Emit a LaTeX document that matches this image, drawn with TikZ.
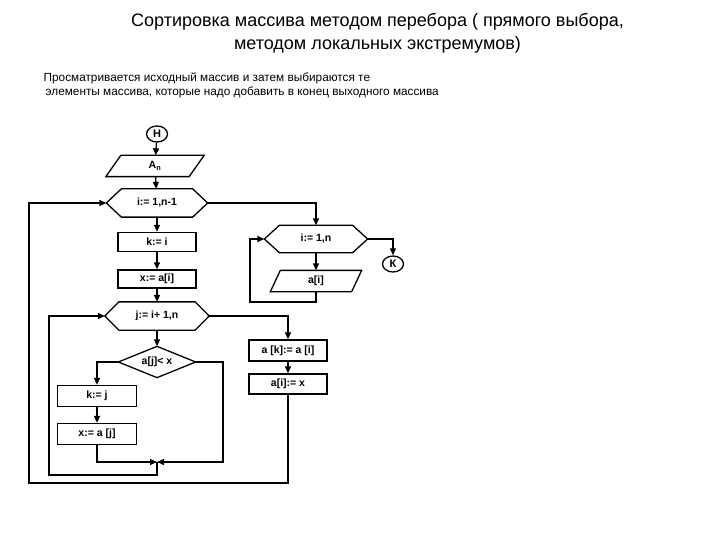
\documentclass[tikz,border=0pt]{standalone}
\usepackage{fontspec}
\setmainfont{Liberation Sans}
\usetikzlibrary{arrows.meta,shapes.geometric}
\newcommand\hexo[2]{\draw (#1.west) -- ([xshift=#2]#1.north west) -- ([xshift=-#2]#1.north east) -- (#1.east) -- ([xshift=-#2]#1.south east) -- ([xshift=#2]#1.south west) -- cycle;}
\newcommand\paral[2]{\draw ([xshift=#2]#1.north west) -- (#1.north east) -- ([xshift=-#2]#1.south east) -- (#1.south west) -- cycle;}
\begin{document}
\begin{tikzpicture}[x=1pt,y=-1pt,line width=1.3pt,
  nfont/.style={font=\bfseries\fontsize{10.5}{12}\selectfont},
  box/.style={draw, nfont, minimum width=78pt, minimum height=20pt, inner sep=0pt},
  hid/.style={nfont, inner sep=0pt},
  term/.style={draw, ellipse, font=\bfseries\fontsize{11}{12}\selectfont, minimum width=21pt, minimum height=16pt, inner sep=0pt},
  arr/.style={-{Triangle[length=7pt,width=6pt]}},
]
\useasboundingbox (0,0) rectangle (720,540);
% title
\node[anchor=base, font=\fontsize{18}{20}\selectfont] (t1) at (377.5,27) {Сортировка массива методом перебора ( прямого выбора,};
\node[anchor=base, font=\fontsize{18}{20}\selectfont] (t2) at (377.5,50) {методом локальных экстремумов)};
\node[anchor=base west, inner sep=0pt, font=\fontsize{11.8}{13}\selectfont] (s1) at (43,82) {Просматривается исходный массив и затем выбираются те};
\node[anchor=base west, inner sep=0pt, font=\fontsize{11.8}{13}\selectfont] (s2) at (45,96) {элементы массива, которые надо добавить в конец выходного массива};
% main column
\node[term] (H) at (157,134) {Н};
\node[hid, minimum width=97pt, minimum height=20pt] (An) at (155,166) {A\textsubscript{n}};
\paral{An}{15pt}
\node[hid, minimum width=100pt, minimum height=27pt] (hI) at (157,203) {i:= 1,n-1};
\hexo{hI}{15pt}
\node[box, minimum height=19pt] (k1) at (157,242) {k:= i};
\node[box, minimum height=18pt] (x1) at (157,279) {x:= a[i]};
\node[hid, minimum width=103pt, minimum height=27pt] (hJ) at (157,316) {j:= i+ 1,n};
\hexo{hJ}{14pt}
\node[hid, minimum width=76pt, minimum height=30pt] (dm) at (157,362) {a[j]< x};
\draw (dm.west) -- (dm.north) -- (dm.east) -- (dm.south) -- cycle;
\node[box, minimum width=79pt, minimum height=21pt] (k2) at (97,396) {k:= j};
\node[box, minimum width=79pt, minimum height=21pt] (x2) at (97,434) {x:= a [j]};
\coordinate (jn) at (157,462);
\coordinate (dr) at (223,462);
\coordinate (lb) at (49,475);
% right column
\node[box, minimum height=21pt] (ak) at (288,350.5) {a [k]:= a [i]};
\node[box] (ax) at (288,384) {a[i]:= x};
\coordinate (ob) at (29,483);
% output loop
\node[hid, minimum width=102pt, minimum height=26pt] (hL) at (316,239) {i:= 1,n};
\hexo{hL}{15pt}
\node[hid, minimum width=90pt, minimum height=20pt] (ao) at (316,281) {a[i]};
\paral{ao}{10pt}
\coordinate (lL) at (250,302);
\node[term] (K) at (393,264) {К};
% connectors
\draw[arr] (H) -- (An);
\draw[arr] (An) -- (hI);
\draw[arr] (hI) -- (k1);
\draw[arr] (k1) -- (x1);
\draw[arr] (x1) -- (hJ);
\draw[arr] (hJ) -- (dm);
\draw[arr] (dm.west) -| (k2);
\draw[arr] (k2) -- (x2);
\draw[arr] (x2.south) |- (jn);
\draw[arr] (dm.east) -| (dr) -- (jn);
\draw[arr] (jn) |- (lb) |- (hJ.west);
\draw[arr] (hJ.east) -| (ak);
\draw[arr] (ak) -- (ax);
\draw[arr] (ax.south) |- (ob) |- (hI.west);
\draw[arr] (hI.east) -| (hL);
\draw[arr] (hL) -- (ao);
\draw[arr] (ao.south) |- (lL) |- (hL.west);
\draw[arr] (hL.east) -| (K);
\end{tikzpicture}
\end{document}
